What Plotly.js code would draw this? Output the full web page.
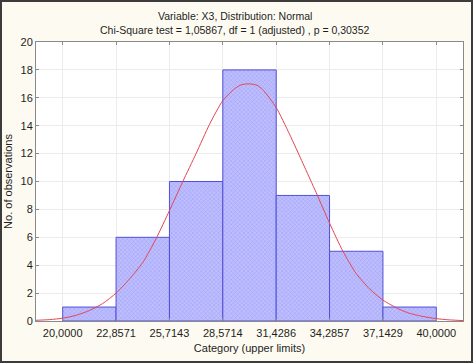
<!DOCTYPE html>
<html>
<head>
<meta charset="utf-8">
<script src="https://cdn.plot.ly/plotly-3.0.1.min.js"></script>
<style>
html,body{margin:0;padding:0;background:#fdfbf1;}
#frame{position:absolute;left:0;top:0;width:473px;height:363px;box-sizing:border-box;border:2px solid #3c3c3c;background:#fdfbf1;}
#chart{position:absolute;left:0;top:0;width:469px;height:359px;}
</style>
</head>
<body>
<div id="frame"><div id="chart"></div></div>
<script>
// Chart texts
var titleLine1 = 'Variable: X3, Distribution: Normal';
var titleLine2 = 'Chi-Square test = 1,05867, df = 1 (adjusted) , p = 0,30352';
// Bin limits (upper limits shown as tick labels)
var binLimits = [20.0000, 22.8571, 25.7143, 28.5714, 31.4286, 34.2857, 37.1429, 40.0000];
var tickLabels = ["20,0000", "22,8571", "25,7143", "28,5714", "31,4286", "34,2857", "37,1429", "40,0000"];
// Observed counts per bin
var counts = [1, 6, 10, 18, 9, 5, 1];
// Fitted normal curve
var curveX = [18.57, 19.3, 20.00, 20.7, 21.43, 22.14, 22.86, 23.57, 24.29, 25.00, 25.71, 26.43, 27.14, 27.86, 28.57, 29.20, 29.60, 30.00, 30.40, 30.70, 31.43, 32.14, 32.86, 33.57, 34.29, 35.00, 35.71, 36.43, 37.14, 38.00, 38.57, 39.3, 40.00, 40.7, 41.43];
var curveY = [0.05, 0.10, 0.20, 0.40, 0.75, 1.25, 2.0, 3.0, 4.2, 5.9, 7.9, 10.0, 12.0, 14.1, 15.8, 16.65, 16.95, 17.0, 16.9, 16.6, 15.3, 13.4, 11.3, 9.2, 7.0, 5.0, 3.4, 2.3, 1.5, 0.85, 0.55, 0.32, 0.17, 0.08, 0.03];
var yTicks = [0, 2, 4, 6, 8, 10, 12, 14, 16, 18, 20];

var centers = [], widths = [];
for (var i = 0; i < counts.length; i++) {
  centers.push((binLimits[i] + binLimits[i + 1]) / 2);
  widths.push(binLimits[i + 1] - binLimits[i]);
}
var bw = binLimits[1] - binLimits[0];

var bars = {
  type: 'bar', x: centers, y: counts, width: widths,
  marker: {
    color: 'rgb(184,184,252)',
    line: {color: 'rgb(80,80,215)', width: 1},
    pattern: {shape: 'x', size: 3, solidity: 0.25, fgcolor: 'rgb(150,150,240)', bgcolor: 'rgb(190,190,255)'}
  },
  hoverinfo: 'none'
};
var curve = {
  type: 'scatter', mode: 'lines', x: curveX, y: curveY,
  line: {color: 'rgb(228,70,80)', width: 1, shape: 'spline', smoothing: 0.6},
  hoverinfo: 'none'
};

var H = 359, T = 39.5, B = 40, PH = H - T - B;
function py(chartY) { return 1 + (T - chartY) / PH; }

var layout = {
  width: 469, height: H,
  margin: {l: 34, r: 8, t: T, b: B},
  paper_bgcolor: '#fdfbf1', plot_bgcolor: '#ffffff',
  font: {family: 'Liberation Sans, Arial, sans-serif', size: 11, color: '#1e1e1e'},
  showlegend: false,
  bargap: 0,
  annotations: [
    {text: titleLine1, xref: 'paper', yref: 'paper', x: 0.5, y: py(13), xanchor: 'center', yanchor: 'middle', showarrow: false, font: {size: 10.5, color: '#1e1e1e'}, xshift: -15},
    {text: titleLine2, xref: 'paper', yref: 'paper', x: 0.5, y: py(27), xanchor: 'center', yanchor: 'middle', showarrow: false, font: {size: 10.5, color: '#1e1e1e'}, xshift: -15}
  ],
  xaxis: {
    range: [binLimits[0] - bw / 2, binLimits[binLimits.length - 1] + bw / 2],
    tickvals: binLimits, ticktext: tickLabels,
    showgrid: true, gridcolor: '#ececec', gridwidth: 1,
    zeroline: false,
    showline: true, linecolor: '#8a8a8a', linewidth: 1, mirror: 'ticks',
    ticks: 'inside', ticklen: 3, tickcolor: '#8a8a8a',
    ticklabelstandoff: 2,
    tickfont: {size: 11},
    title: {text: 'Category (upper limits)', font: {size: 11}, standoff: 6}
  },
  yaxis: {
    range: [0, 20],
    tickvals: yTicks,
    showgrid: true, gridcolor: '#ececec', gridwidth: 1,
    zeroline: false,
    showline: true, linecolor: '#8a8a8a', linewidth: 1, mirror: 'ticks',
    ticks: 'inside', ticklen: 3, tickcolor: '#8a8a8a',
    tickfont: {size: 11},
    title: {text: 'No. of observations', font: {size: 11}, standoff: 6}
  }
};

Plotly.newPlot('chart', [bars, curve], layout, {displayModeBar: false, staticPlot: true});
</script>
</body>
</html>
